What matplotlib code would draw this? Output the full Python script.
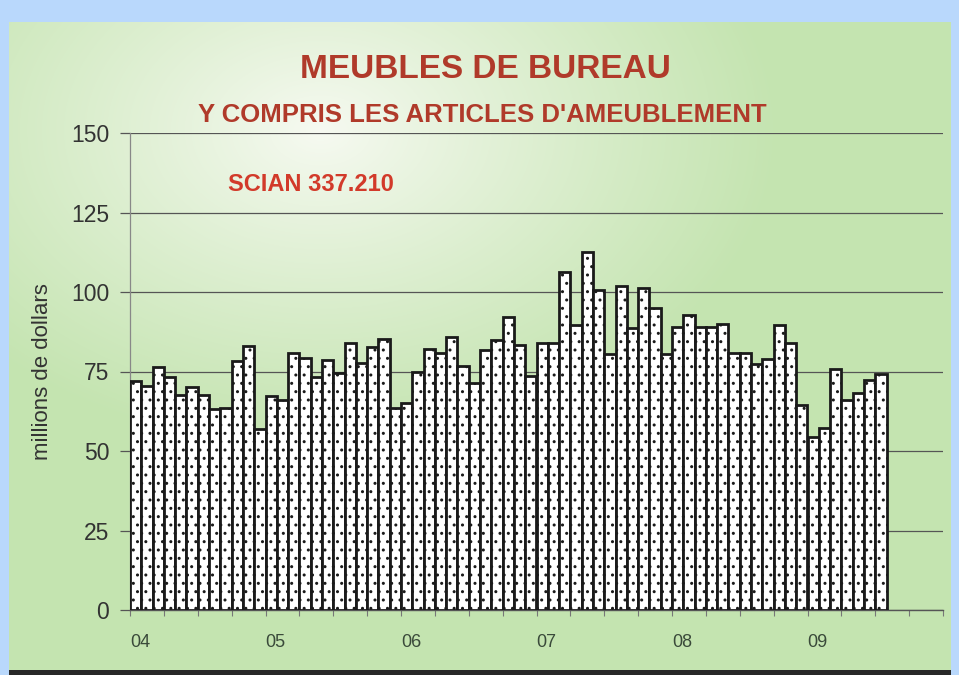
import matplotlib.pyplot as plt
import numpy as np

# monthly shipments, Jan 2004 - Jul 2009 (millions of dollars)
values = [72, 70.4, 76.5, 73.4, 67.6, 70.2, 67.6, 63.1, 63.5, 78.4, 83.1, 56.8,
          67.3, 66, 80.8, 79.3, 73.2, 78.6, 74.4, 83.9, 77.8, 82.8, 85.1, 63.6,
          65, 74.9, 82, 80.9, 85.9, 76.7, 71.5, 81.8, 84.9, 92, 83.2, 73.6,
          84, 84, 106.4, 89.6, 112.5, 100.6, 80.4, 102, 88.8, 101.2, 94.9, 80.4,
          89.1, 92.8, 88.9, 88.9, 89.9, 80.9, 80.9, 77.3, 78.8, 89.5, 84, 64.6,
          54.5, 57.3, 75.7, 66, 68.1, 72.3, 74.2]
year_labels = ['04', '05', '06', '07', '08', '09']
y_ticks = [0, 25, 50, 75, 100, 125, 150]

title = 'MEUBLES DE BUREAU'
subtitle = "Y COMPRIS LES ARTICLES D'AMEUBLEMENT"
code = 'SCIAN 337.210'
ylabel = 'millions de dollars'

fam = ['Liberation Sans', 'DejaVu Sans']
plt.rcParams['hatch.linewidth'] = 1.0

fig = plt.figure(figsize=(9.59, 6.75), dpi=100)

# background: blue frame, greenish panel with a pale glow top-left
W, H = 959, 675
bg = np.zeros((H, W, 3))
bg[:] = np.array([185, 216, 252]) / 255
yy, xx = np.mgrid[0:H, 0:W]
d = np.sqrt(((xx - 320) / 460.0) ** 2 + ((yy - 130) / 320.0) ** 2)
t = np.clip(d, 0, 1)[..., None] ** 0.9
white = np.array([247, 250, 242]) / 255
green = np.array([196, 228, 176]) / 255
panel = white * (1 - t) + green * t
bg[22:670, 9:951] = panel[22:670, 9:951]
bg[670:675, 9:951] = np.array([40, 40, 40]) / 255
bax = fig.add_axes([0, 0, 1, 1], zorder=-1)
bax.imshow(bg, aspect='auto')
bax.axis('off')

ax = fig.add_axes([130 / W, 65 / H, 813 / W, 477 / H])
ax.set_facecolor('none')

x = np.arange(len(values))
ax.bar(x, values, width=1.0, align='edge', color='white', edgecolor='#1a1a1a',
       linewidth=2.0, hatch='..', zorder=3)

ax.set_xlim(0, 72)
ax.set_ylim(0, 150)
ax.set_yticks(y_ticks)
ax.set_yticklabels([str(v) for v in y_ticks], fontfamily=fam, fontsize=16.5,
                   color='#333333')
ax.yaxis.grid(True, color='#555555', linewidth=0.9, zorder=0)
ax.tick_params(axis='y', length=7, width=0.9, color='#555555', pad=8)

ax.set_xticks(np.arange(0, 72, 12))
ax.set_xticklabels(year_labels, fontfamily=fam, fontsize=13, color='#3a4a3a',
                   ha='left')
ax.set_xticks(np.arange(0, 73, 3), minor=True)
ax.tick_params(axis='x', which='both', length=4, width=0.8, color='#777777',
               pad=13)

for s in ['top', 'right']:
    ax.spines[s].set_visible(False)
ax.spines['left'].set_color('#888888')
ax.spines['left'].set_linewidth(0.9)
ax.spines['bottom'].set_color('#555555')
ax.spines['bottom'].set_linewidth(1.0)

fig.text(43 / W, 1 - 372 / H, ylabel, rotation=90, ha='center', va='center',
         fontfamily=fam, fontsize=16, color='#333333')

fig.text(0.506, 0.897, title, ha='center', va='center', fontfamily=fam,
         fontweight='bold', fontsize=24, color='#b03a2a')
fig.text(0.503, 0.830, subtitle, ha='center', va='center', fontfamily=fam,
         fontweight='bold', fontsize=18.5, color='#b03a2a')
fig.text(0.238, 0.727, code, ha='left', va='center', fontfamily=fam,
         fontweight='bold', fontsize=17, color='#d23a2a')

fig.savefig('out.png', dpi=100)
